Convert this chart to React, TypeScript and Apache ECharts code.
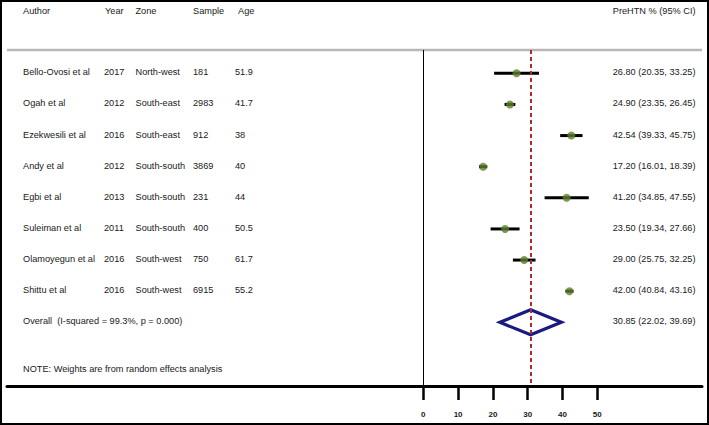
import React, { useEffect, useRef } from "react";
import * as echarts from "echarts";

const headers = ["Author", "Year", "Zone", "Sample", "Age"];
const rightHeader = "PreHTN % (95% CI)";
const authors = ["Bello-Ovosi et al", "Ogah et al", "Ezekwesili et al", "Andy et al", "Egbi et al", "Suleiman et al", "Olamoyegun et al", "Shittu et al"];
const years = ["2017", "2012", "2016", "2012", "2013", "2011", "2016", "2016"];
const zones = ["North-west", "South-east", "South-east", "South-south", "South-south", "South-south", "South-west", "South-west"];
const samples = ["181", "2983", "912", "3869", "231", "400", "750", "6915"];
const ages = ["51.9", "41.7", "38", "40", "44", "50.5", "61.7", "55.2"];
const estimates = [26.8, 24.9, 42.54, 17.2, 41.2, 23.5, 29.0, 42.0];
const lowers = [20.35, 23.35, 39.33, 16.01, 34.85, 19.34, 25.75, 40.84];
const uppers = [33.25, 26.45, 45.75, 18.39, 47.55, 27.66, 32.25, 43.16];
const overallLabel = "Overall  (I-squared = 99.3%, p = 0.000)";
const overallEstimate = 30.85;
const overallLower = 22.02;
const overallUpper = 39.69;
const noteText = "NOTE: Weights are from random effects analysis";
const xTicks = [0, 10, 20, 30, 40, 50];

const FONT = "'Liberation Sans', Arial, sans-serif";
const FS = 9.2;
const TXT = "#202020";
const colX = [23, 104, 135.5, 193, 235];
const rightX = 695.5;

function fmt(v: number) {
  return v.toFixed(2);
}

function txt(text: string, x: number, y: number, align: string = "left") {
  return {
    type: "text",
    x,
    y,
    silent: true,
    style: {
      text,
      fill: TXT,
      fontSize: FS,
      fontFamily: FONT,
      align,
      verticalAlign: "middle",
      textAlign: align,
      textVerticalAlign: "middle",
    },
  };
}

export default function App() {
  const ref = useRef<HTMLDivElement>(null);
  useEffect(() => {
    document.body.style.margin = "0";
    if (!ref.current) return;
    const chart = echarts.init(ref.current, null, { renderer: "svg" });
    const nRows = authors.length;
    const rowIdx = authors.map((_, i) => i);

    const option: any = {
      animation: false,
      backgroundColor: "#ffffff",
      textStyle: { color: "#111", fontFamily: FONT },
      grid: { left: 7, top: 50, width: 695, height: 336, containLabel: false },
      xAxis: {
        type: "value",
        min: -119.63,
        max: 80.09,
        position: "bottom",
        splitLine: { show: false },
        axisLine: { show: true, onZero: false, lineStyle: { color: "#000", width: 3 } },
        axisTick: { show: true, customValues: xTicks, length: 14, lineStyle: { color: "#000", width: 2.5 } },
        axisLabel: {
          show: true,
          customValues: xTicks,
          margin: 24,
          fontSize: 8,
          fontWeight: "bold",
          color: "#1a1a1a",
          fontFamily: FONT,
        },
      },
      yAxis: {
        type: "value",
        min: -0.749,
        max: 10.046,
        inverse: true,
        show: false,
      },
      graphic: [
        { type: "rect", shape: { x: 1, y: 1, width: 707, height: 423 }, style: { fill: "none", stroke: "#000", lineWidth: 2 }, silent: true },
        { type: "line", shape: { x1: 7, y1: 50, x2: 702, y2: 50 }, style: { stroke: "#b8b8b8", lineWidth: 2.5 }, silent: true },
        ...headers.map((h, i) => txt(h, i === 4 ? 238 : colX[i] + (i === 1 ? 1 : 0), 11)),
        txt(rightHeader, rightX, 11, "right"),
        txt(noteText, colX[0], 369),
      ],
      series: [
        {
          type: "custom",
          name: "table",
          data: rowIdx.map((i) => [0, i]),
          silent: true,
          renderItem: (params: any, api: any) => {
            const i = params.dataIndex;
            const y = api.coord([0, api.value(1)])[1] - 1;
            return {
              type: "group",
              children: [
                txt(authors[i], colX[0], y),
                txt(years[i], colX[1], y),
                txt(zones[i], colX[2], y),
                txt(samples[i], colX[3], y),
                txt(ages[i], colX[4], y),
                txt(`${fmt(estimates[i])} (${fmt(lowers[i])}, ${fmt(uppers[i])})`, rightX, y, "right"),
              ],
            };
          },
          z: 5,
        },
        {
          type: "custom",
          name: "overallText",
          data: [[0, nRows]],
          silent: true,
          renderItem: (params: any, api: any) => {
            const y = api.coord([0, api.value(1)])[1] - 1;
            return {
              type: "group",
              children: [
                txt(overallLabel, colX[0], y),
                txt(`${fmt(overallEstimate)} (${fmt(overallLower)}, ${fmt(overallUpper)})`, rightX, y, "right"),
              ],
            };
          },
        },
        {
          type: "custom",
          name: "ci",
          data: rowIdx.map((i) => [lowers[i], uppers[i], i]),
          renderItem: (params: any, api: any) => {
            const a = api.coord([api.value(0), api.value(2)]);
            const b = api.coord([api.value(1), api.value(2)]);
            return {
              type: "line",
              shape: { x1: a[0], y1: a[1], x2: b[0], y2: b[1] },
              style: { stroke: "#000", lineWidth: 3 },
            };
          },
          z: 3,
          markLine: {
            silent: true,
            symbol: "none",
            label: { show: false },
            data: [
              { xAxis: 0, lineStyle: { color: "#000", width: 1, type: "solid" } },
              { xAxis: overallEstimate, lineStyle: { color: "#b02a2a", width: 2, type: [4, 3] } },
            ],
          },
        },
        {
          type: "scatter",
          name: "estimates",
          data: rowIdx.map((i) => [estimates[i], i]),
          symbol: "circle",
          symbolSize: 8,
          itemStyle: { color: "#5b7f2b" },
          z: 4,
        },
        {
          type: "custom",
          name: "overall",
          data: [[overallLower, overallEstimate, overallUpper, nRows]],
          renderItem: (params: any, api: any) => {
            const l = api.coord([api.value(0), api.value(3)]);
            const m = api.coord([api.value(1), api.value(3)]);
            const r = api.coord([api.value(2), api.value(3)]);
            const h = 12.5;
            return {
              type: "polygon",
              shape: { points: [[l[0], l[1]], [m[0], m[1] - h], [r[0], r[1]], [m[0], m[1] + h]] },
              style: { fill: "none", stroke: "#1a1a80", lineWidth: 3.2 },
            };
          },
          z: 4,
        },
      ],
    };
    chart.setOption(option);
    return () => chart.dispose();
  }, []);
  return <div ref={ref} style={{ width: 709, height: 425 }} />;
}
